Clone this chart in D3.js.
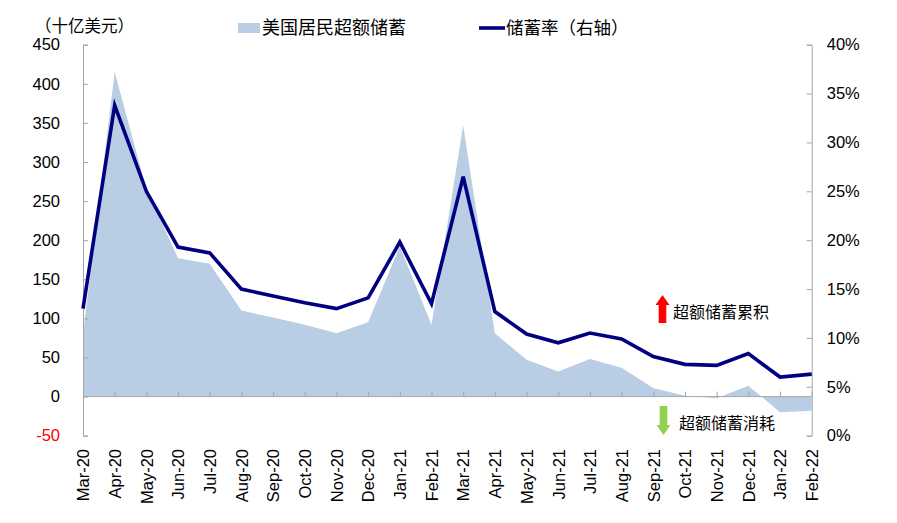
<!DOCTYPE html>
<html><head><meta charset="utf-8">
<script src="https://cdn.jsdelivr.net/npm/d3@7"></script>
<style>
body{margin:0;background:#fff;}
svg{display:block;font-family:"Liberation Sans",Arial,"Noto Sans CJK SC",sans-serif;}
.cjk{font-family:"Noto Sans CJK SC","Liberation Sans",sans-serif;}
</style></head>
<body>
<svg id="chart" width="897" height="523"></svg>
<script>
const categories = ["Mar-20","Apr-20","May-20","Jun-20","Jul-20","Aug-20","Sep-20","Oct-20","Nov-20","Dec-20","Jan-21","Feb-21","Mar-21","Apr-21","May-21","Jun-21","Jul-21","Aug-21","Sep-21","Oct-21","Nov-21","Dec-21","Jan-22","Feb-22"];
const excessSavings = [80,415,265,177,170,110,101,92,81,95,192,92,347,81,47,32,48,37,11,1,-2,14,-20,-18];
const savingRate = [0.130,0.338,0.250,0.193,0.187,0.150,0.143,0.136,0.130,0.141,0.198,0.135,0.265,0.127,0.104,0.095,0.105,0.099,0.081,0.073,0.072,0.084,0.060,0.063];
const leftTicks = [-50,0,50,100,150,200,250,300,350,400,450];
const rightTicks = [0,0.05,0.10,0.15,0.20,0.25,0.30,0.35,0.40];
const seriesNames = ["美国居民超额储蓄","储蓄率（右轴）"];
const unitLabel = "（十亿美元）";
const noteUp = "超额储蓄累积", noteDown = "超额储蓄消耗";

const svg = d3.select("#chart");
const X0 = 83, X1 = 811.7, YT = 44.7, YB = 435.7;
const areaColor = "#B9CDE5", lineColor = "#000080", axisColor = "#A6A6A6";

const x = d3.scalePoint().domain(categories).range([X0, X1]).padding(0);
const yL = d3.scaleLinear().domain([-50, 450]).range([YB, YT]);
const yR = d3.scaleLinear().domain([0, 0.40]).range([YB, YT]);

// area
const area = d3.area().x((d,i)=>x(categories[i])).y0(yL(0)).y1(d=>yL(d));
svg.append("path").datum(excessSavings).attr("d", area).attr("fill", areaColor);

// left axis
const gL = svg.append("g").attr("transform", `translate(${X0},0)`)
  .call(d3.axisLeft(yL).tickValues(leftTicks).tickSize(-5).tickPadding(23).tickFormat(d => String(d)));
gL.select(".domain").attr("stroke", axisColor);
gL.selectAll(".tick line").attr("stroke", axisColor);
gL.selectAll(".tick text").attr("font-size", 16.5).attr("fill", d => d < 0 ? "#FF0000" : "#000")
  .attr("font-family", "'Liberation Sans',Arial,sans-serif");

// right axis
const gR = svg.append("g").attr("transform", `translate(${X1},0)`)
  .call(d3.axisRight(yR).tickValues(rightTicks).tickSize(-5).tickPadding(15).tickFormat(d3.format(".0%")));
gR.select(".domain").attr("stroke", axisColor);
gR.selectAll(".tick line").attr("stroke", axisColor);
gR.selectAll(".tick text").attr("font-size", 16.5).attr("fill", "#000")
  .attr("font-family", "'Liberation Sans',Arial,sans-serif");

// zero axis with ticks upward
const gX = svg.append("g").attr("transform", `translate(0,${yL(0)})`)
  .call(d3.axisBottom(x).tickSize(-5).tickFormat(""));
gX.select(".domain").attr("stroke", axisColor).attr("d", `M${X0},0H${X1}`);
gX.selectAll(".tick line").attr("stroke", axisColor);

// category labels
const gLab = svg.append("g").attr("transform", `translate(0,449)`)
  .call(d3.axisBottom(x).tickSize(0));
gLab.select(".domain").remove();
gLab.selectAll(".tick text")
  .attr("transform", "rotate(-90)").attr("x", 0).attr("y", 0).attr("dy", "0.35em")
  .attr("text-anchor", "end").attr("font-size", 16.5).attr("fill", "#000")
  .attr("font-family", "'Liberation Sans',Arial,sans-serif");

// line
const line = d3.line().x((d,i)=>x(categories[i])).y(d=>yR(d));
svg.append("path").datum(savingRate).attr("d", line).attr("fill", "none")
  .attr("stroke", lineColor).attr("stroke-width", 3.6).attr("stroke-linejoin", "miter");

// unit label
svg.append("text").attr("class","cjk").attr("x", 35).attr("y", 26).attr("dy","0.35em")
  .attr("font-size", 16.5).text(unitLabel);

// legend
svg.append("rect").attr("x", 238).attr("y", 23).attr("width", 22).attr("height", 10).attr("fill", areaColor);
svg.append("text").attr("class","cjk").attr("x", 262).attr("y", 28).attr("dy","0.35em")
  .attr("font-size", 18).text(seriesNames[0]);
svg.append("line").attr("x1", 479).attr("x2", 505).attr("y1", 28).attr("y2", 28)
  .attr("stroke", lineColor).attr("stroke-width", 3.6);
svg.append("text").attr("class","cjk").attr("x", 506).attr("y", 28).attr("dy","0.35em")
  .attr("font-size", 17.5).text(seriesNames[1]);

// annotations
const ax = 662.5;
svg.append("path").attr("fill", "#FF0000")
  .attr("d", `M${ax},295 L${ax+7},305 L${ax+3.8},305 L${ax+3.8},323 L${ax-3.8},323 L${ax-3.8},305 L${ax-7},305 Z`);
svg.append("text").attr("class","cjk").attr("x", 673).attr("y", 312).attr("dy","0.35em")
  .attr("font-size", 16).text(noteUp);
const bx = 663.5;
svg.append("path").attr("fill", "#92D050")
  .attr("d", `M${bx},435 L${bx+7},425 L${bx+3.8},425 L${bx+3.8},406 L${bx-3.8},406 L${bx-3.8},425 L${bx-7},425 Z`);
svg.append("text").attr("class","cjk").attr("x", 679).attr("y", 423).attr("dy","0.35em")
  .attr("font-size", 16).text(noteDown);
</script>
</body></html>
